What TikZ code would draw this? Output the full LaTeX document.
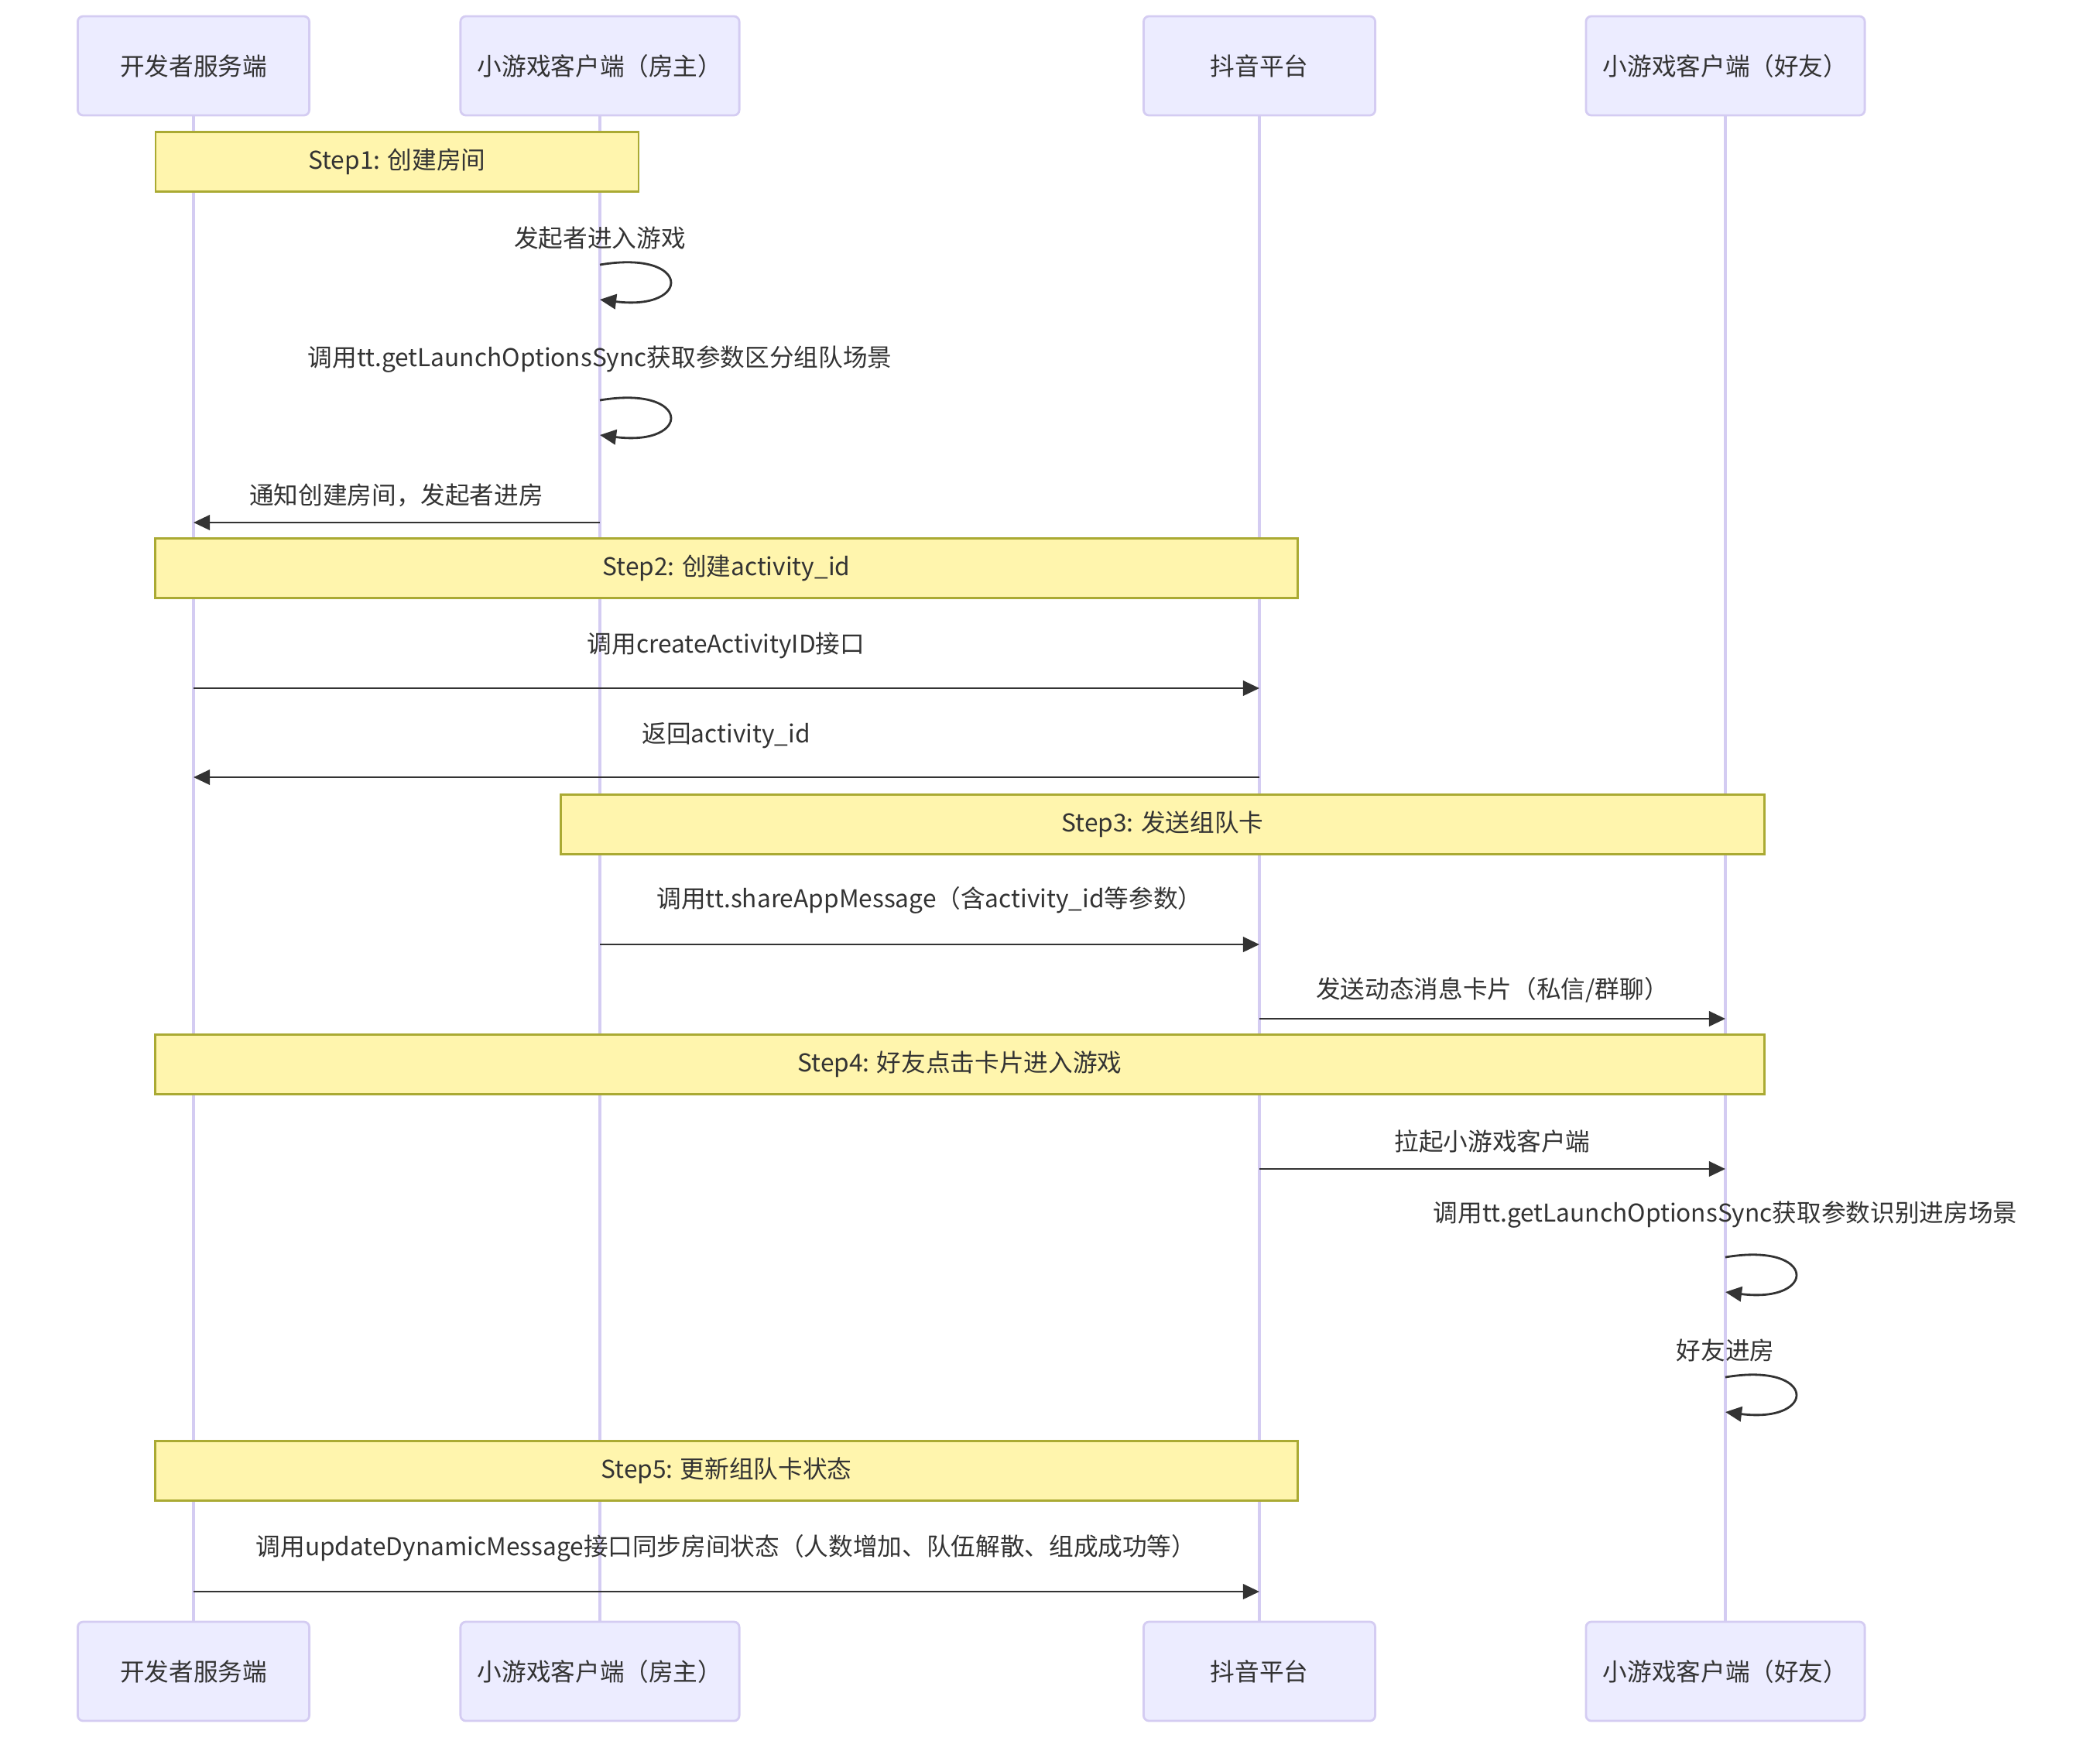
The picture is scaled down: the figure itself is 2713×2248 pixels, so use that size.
\documentclass[tikz,border=0pt]{standalone}
\usepackage{fontspec}
\setmainfont{Noto Sans CJK SC}
\usepackage{xcolor}
\usetikzlibrary{positioning,arrows.meta}

\definecolor{actfill}{HTML}{ECECFF}
\definecolor{actline}{HTML}{D4CCF2}
\definecolor{notefill}{HTML}{FFF5AD}
\definecolor{noteline}{HTML}{AAAA33}
\definecolor{ink}{HTML}{333333}

\begin{document}
\begin{tikzpicture}[x=0.01cm, y=-0.01cm,
  >={Triangle[length=6pt,width=5.5pt]},
  every node/.style={font=\fontsize{9pt}{11pt}\selectfont, text=ink},
  actor/.style={draw=actline, fill=actfill, line width=0.8pt, rounded corners=2pt,
    minimum width=2.99cm, minimum height=1.28cm, inner sep=0pt},
  wideactor/.style={actor, minimum width=3.6cm},
  life/.style={draw=actline, line width=0.9pt},
  note/.style={draw=noteline, fill=notefill, line width=0.7pt,
    minimum height=0.77cm, inner sep=0pt},
  msg/.style={->, draw=ink, line width=0.8pt},
  lbl/.style={inner sep=1pt}]
  \useasboundingbox (0,0) rectangle (2713,2248);
  % actors (top)
  \node[actor]     (dev)     at (250,85)   {开发者服务端};
  \node[wideactor] (host)    at (775,85)   {小游戏客户端（房主）};
  \node[actor]     (douyin)  at (1627,85)  {抖音平台};
  \node[wideactor] (friend)  at (2229,85)  {小游戏客户端（好友）};
  % actors (bottom)
  \node[actor]     (dev2)    at (250,2159)  {开发者服务端};
  \node[wideactor] (host2)   at (775,2159)  {小游戏客户端（房主）};
  \node[actor]     (douyin2) at (1627,2159) {抖音平台};
  \node[wideactor] (friend2) at (2229,2159) {小游戏客户端（好友）};
  % lifelines
  \draw[life] (dev.south)    -- (dev2.north);
  \draw[life] (host.south)   -- (host2.north);
  \draw[life] (douyin.south) -- (douyin2.north);
  \draw[life] (friend.south) -- (friend2.north);
  % step notes
  \node[note, minimum width=6.24cm]  (step1) at (513,209)      {Step1: 创建房间};
  \node[note, minimum width=14.75cm] (step2) at (938.5,734)    {Step2: 创建activity\_id};
  \node[note, minimum width=15.54cm] (step3) at (1502,1065)    {Step3: 发送组队卡};
  \node[note, minimum width=20.78cm] (step4) at (1240,1375)    {Step4: 好友点击卡片进入游戏};
  \node[note, minimum width=14.75cm] (step5) at (938.5,1900)   {Step5: 更新组队卡状态};
  % step1: host enters
  \node[lbl] (l1) at (775,308) {发起者进入游戏};
  \draw[msg] (host |- 0,342) .. controls +(119,-20) and +(119,15) .. (host |- 0,387);
  \node[lbl] (l2) at (775,464) {调用tt.getLaunchOptionsSync获取参数区分组队场景};
  \draw[msg] (host |- 0,517) .. controls +(119,-20) and +(119,15) .. (host |- 0,562);
  \node[lbl] (l3) at (512,640) {通知创建房间，发起者进房};
  \draw[msg] (host |- 0,675) -- (dev |- 0,675);
  % step2: activity id
  \node[lbl] (l4) at (938,834) {调用createActivityID接口};
  \draw[msg] (dev |- 0,889) -- (douyin |- 0,889);
  \node[lbl] (l5) at (938,950) {返回activity\_id};
  \draw[msg] (douyin |- 0,1004) -- (dev |- 0,1004);
  % step3: share card
  \node[lbl] (l6) at (1201,1163) {调用tt.shareAppMessage（含activity\_id等参数）};
  \draw[msg] (host |- 0,1220) -- (douyin |- 0,1220);
  \node[lbl] (l7) at (1928,1279) {发送动态消息卡片（私信/群聊）};
  \draw[msg] (douyin |- 0,1316) -- (friend |- 0,1316);
  % step4: friend joins
  \node[lbl] (l8) at (1928,1474) {拉起小游戏客户端};
  \draw[msg] (douyin |- 0,1510) -- (friend |- 0,1510);
  \node[lbl] (l9) at (2229,1569) {调用tt.getLaunchOptionsSync获取参数识别进房场景};
  \draw[msg] (friend |- 0,1624) .. controls +(119,-20) and +(119,15) .. (friend |- 0,1669);
  \node[lbl] (l10) at (2229,1744) {好友进房};
  \draw[msg] (friend |- 0,1779) .. controls +(119,-20) and +(119,15) .. (friend |- 0,1824);
  % step5: update card
  \node[lbl] (l11) at (938,2000) {调用updateDynamicMessage接口同步房间状态（人数增加、队伍解散、组成成功等）};
  \draw[msg] (dev |- 0,2056) -- (douyin |- 0,2056);
\end{tikzpicture}
\end{document}
